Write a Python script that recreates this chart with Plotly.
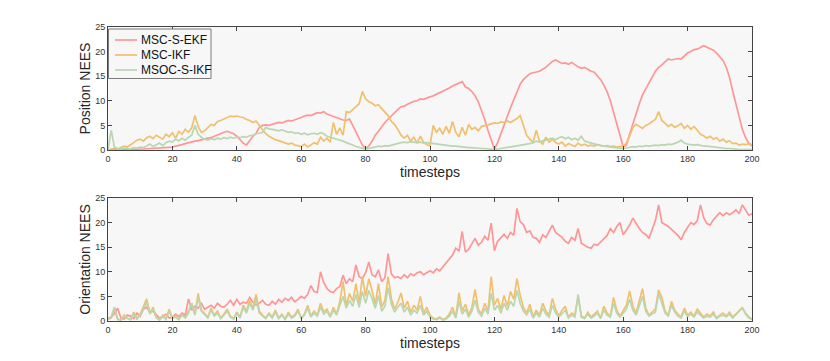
import plotly.graph_objects as go

timesteps = list(range(0, 201))

pos_msc_s_ekf = [
    0.0,0.05,0.1,0.1,0.1,0.15,0.1,0.15,0.2,0.15,
    0.2,0.2,0.25,0.2,0.3,0.3,0.35,0.4,0.45,0.5,
    0.6,0.8,0.9,1.1,1.3,1.5,1.6,1.8,1.9,2.1,
    2.2,2.4,2.5,2.8,3.1,3.4,3.6,3.8,3.6,3.3,
    2.8,2.0,1.4,1.0,2.0,2.8,3.4,4.6,5.0,5.1,
    5.0,5.2,5.4,5.6,5.5,5.8,6.0,5.9,6.1,6.3,
    6.6,6.9,7.1,7.0,7.3,7.6,7.5,7.8,7.3,7.0,
    6.8,6.6,6.3,6.1,6.0,6.3,5.0,3.6,2.2,1.0,
    0.3,0.8,1.8,3.0,3.8,4.8,5.6,6.3,7.0,7.6,
    8.2,8.8,8.9,9.3,9.6,9.9,10.0,10.4,10.3,10.6,
    10.8,11.0,11.3,11.6,11.9,12.2,12.6,13.0,13.3,13.6,
    13.9,12.8,12.5,11.9,11.0,9.8,8.2,6.2,4.0,2.0,
    0.2,1.5,3.4,5.0,6.8,8.6,10.3,12.0,13.4,14.3,
    15.0,15.5,15.7,15.9,16.0,16.4,16.8,17.4,18.0,18.3,
    17.9,17.6,17.7,17.4,17.8,17.3,16.9,16.6,16.8,16.4,
    16.0,15.8,15.0,14.3,13.2,11.8,10.0,7.8,5.5,3.0,
    0.6,1.0,3.2,5.4,7.4,9.4,11.2,12.5,13.6,14.8,
    16.0,16.8,17.3,18.0,18.5,18.3,18.4,18.6,18.5,19.2,
    19.7,20.0,20.4,20.5,20.9,21.2,20.9,20.6,20.3,19.7,
    19.0,18.2,16.8,14.8,12.0,9.2,6.5,4.2,2.5,1.4,
    0.8]

pos_msc_ikf = [
    0.1,0.2,0.3,0.2,0.5,0.8,0.6,1.0,1.5,2.0,
    2.2,1.8,2.5,2.8,2.3,3.0,2.6,2.2,3.2,2.7,
    3.5,2.4,3.8,3.2,4.2,3.6,4.5,7.0,4.8,3.6,
    3.9,4.6,5.2,5.0,5.8,6.0,6.3,6.6,6.9,6.8,
    6.9,6.7,6.6,6.2,6.0,5.6,5.9,5.0,4.2,3.3,
    2.8,2.4,2.1,1.9,1.7,1.5,1.2,1.4,1.0,0.9,
    0.7,1.2,0.6,1.0,1.5,1.2,2.6,1.8,2.4,1.6,
    5.6,3.2,4.5,3.0,7.8,7.6,8.2,8.8,9.4,11.9,
    10.4,9.8,9.5,9.0,9.2,8.4,7.6,7.0,5.8,5.2,
    4.2,3.0,2.4,3.0,1.8,2.6,1.4,2.8,1.6,1.1,
    0.8,5.0,3.6,4.4,3.2,4.8,3.4,5.8,3.6,2.7,
    4.6,3.0,5.2,4.2,4.6,3.9,4.8,4.9,5.1,5.3,
    5.5,5.4,5.7,5.6,5.9,5.6,6.0,6.4,7.0,5.0,
    3.0,2.2,1.6,4.0,1.8,1.2,2.6,1.6,2.2,1.5,
    1.2,1.6,0.8,1.3,1.0,0.7,1.4,0.9,1.2,0.8,
    1.0,0.8,1.1,0.9,0.8,0.9,0.7,0.8,0.6,0.7,
    0.8,1.4,2.8,4.6,5.2,4.8,4.4,5.0,5.3,5.8,
    6.2,7.8,6.0,5.4,4.8,5.2,4.6,4.9,5.4,4.4,
    5.0,4.2,4.8,4.0,3.2,2.9,2.4,2.8,2.2,2.5,
    1.8,2.2,1.6,1.9,1.3,1.4,1.0,1.2,1.1,1.3,
    1.1]

pos_msoc_s_ikf = [
    0.2,4.0,0.6,0.3,0.2,0.4,0.3,0.2,0.5,0.4,
    0.6,0.5,0.8,1.2,0.7,1.0,1.4,0.9,1.5,1.8,
    1.6,2.2,1.9,2.4,2.0,2.6,3.0,5.0,3.2,2.6,
    2.2,2.0,2.3,2.1,2.4,2.2,2.5,2.3,2.6,2.4,
    2.6,2.5,2.7,2.6,2.9,3.0,3.3,3.4,3.6,4.6,
    4.3,4.2,4.0,3.9,4.1,3.8,3.6,3.7,3.4,3.5,
    3.2,3.4,3.1,3.3,3.4,3.2,3.5,3.3,2.8,2.6,
    2.4,2.2,2.1,1.8,1.5,1.3,1.0,0.7,0.5,0.3,
    0.2,0.3,0.5,0.7,0.8,0.7,0.9,0.8,1.0,1.2,
    1.4,1.5,1.6,1.5,1.7,1.6,1.5,1.6,1.4,1.5,
    1.4,1.3,1.2,1.1,1.0,1.0,0.9,0.8,0.8,0.7,
    0.6,0.6,0.5,0.5,0.4,0.4,0.3,0.3,0.2,0.2,
    0.1,0.2,0.3,0.4,0.5,0.6,0.7,0.8,0.9,1.0,
    1.1,1.3,1.5,1.8,1.6,1.9,2.0,2.2,2.4,2.1,
    2.5,2.7,2.3,2.6,2.1,2.4,2.0,2.8,1.8,1.6,
    1.4,1.2,1.0,0.9,0.8,0.7,0.6,0.5,0.4,0.35,
    0.3,0.4,0.5,0.7,0.6,0.8,0.7,0.9,0.8,0.9,
    1.0,0.9,1.1,1.0,1.2,1.1,1.3,1.6,2.0,1.4,
    1.2,1.1,1.0,1.1,0.9,0.8,0.8,0.7,0.6,0.5,
    0.4,0.4,0.3,0.3,0.2,0.2,0.1,0.1,0.1,0.1,
    0.1]

ori_msc_s_ekf = [
    0.5,0.8,1.5,2.6,0.6,0.4,1.2,1.0,0.5,1.6,
    1.0,2.4,2.8,1.8,2.0,1.2,0.6,0.8,1.4,0.6,
    0.8,1.4,0.9,1.6,1.2,4.5,2.2,3.0,2.6,3.6,
    2.4,2.8,3.2,2.6,3.6,3.0,2.8,3.4,4.2,3.2,
    4.4,3.4,3.8,3.6,4.8,3.8,3.2,3.6,4.2,3.4,
    3.2,4.0,3.4,4.4,3.8,4.6,4.2,4.8,3.9,4.4,
    5.0,4.6,5.4,7.2,6.0,5.8,10.0,7.8,6.6,6.0,
    5.8,6.6,7.0,9.3,7.6,8.6,8.0,11.4,9.0,8.6,
    9.8,12.0,9.4,9.0,10.4,8.0,8.8,13.7,9.6,8.8,
    9.0,8.6,9.4,8.8,9.6,9.2,9.8,10.0,9.4,9.8,
    10.2,9.8,10.6,10.2,11.0,12.0,12.6,13.4,14.8,14.2,
    18.2,14.0,14.6,15.6,16.8,15.4,16.0,17.2,16.4,19.9,
    14.3,16.2,16.8,17.6,16.8,18.0,17.4,22.9,20.2,19.6,
    18.0,18.3,17.0,16.8,16.0,17.5,17.0,18.4,19.5,18.0,
    17.5,17.0,16.2,15.8,17.0,16.4,18.8,15.8,15.4,15.0,
    14.8,15.6,15.4,16.0,16.8,17.4,18.8,18.0,19.2,20.0,
    17.5,18.4,19.5,20.9,19.8,18.8,18.0,17.6,16.8,18.4,
    20.4,23.6,20.0,19.6,19.2,18.6,18.0,17.4,16.5,18.0,
    19.0,20.0,19.6,20.4,23.6,21.0,19.8,19.5,20.6,21.4,
    22.0,21.4,22.0,21.6,22.0,22.6,21.8,23.6,22.4,21.5,
    21.8]

ori_msc_ikf = [
    0.3,0.8,2.8,0.4,0.2,1.2,0.6,0.3,1.8,0.5,
    1.4,3.0,4.5,1.6,2.8,0.8,0.3,1.2,0.4,2.4,
    0.6,1.0,0.3,1.4,0.8,2.0,3.6,1.4,5.6,2.2,
    1.6,0.8,2.6,1.2,2.0,0.6,1.4,2.4,1.0,0.5,
    1.8,0.8,3.2,2.0,4.2,2.6,5.4,2.0,1.2,0.6,
    1.6,0.8,2.2,0.6,1.4,0.4,1.8,0.8,1.2,2.4,
    0.6,1.4,3.2,1.0,2.0,1.2,3.6,1.8,2.4,1.0,
    2.8,1.4,4.0,8.0,3.2,5.6,4.0,7.6,3.6,9.0,
    5.0,8.6,6.2,3.4,7.6,2.8,4.2,9.0,4.6,2.4,
    3.8,5.7,2.6,4.0,1.8,3.2,2.2,5.0,1.6,2.8,
    1.2,0.6,0.4,0.8,0.3,0.6,1.4,2.8,0.8,5.7,
    2.0,3.4,1.2,2.8,6.4,2.4,1.4,3.6,2.0,9.0,
    3.2,4.6,2.4,5.2,3.0,6.0,4.4,8.6,5.2,2.8,
    1.6,3.4,0.8,2.2,1.2,3.6,2.0,1.2,4.6,2.4,
    1.0,2.2,3.0,0.8,1.6,1.2,5.0,1.0,0.6,1.8,
    0.8,1.4,2.0,0.6,3.0,1.6,1.0,4.8,2.2,1.0,
    2.2,3.2,6.1,3.0,1.6,4.0,6.6,2.6,1.2,1.8,
    2.4,6.3,4.8,2.0,1.2,4.0,2.2,1.4,0.8,2.6,
    1.2,1.8,1.0,2.4,1.6,0.8,1.4,1.0,1.8,0.6,
    1.2,1.6,1.0,1.8,0.8,1.4,2.0,2.7,1.6,0.8,
    0.4]

ori_msoc_s_ikf = [
    0.3,0.6,2.6,0.3,0.2,1.0,0.5,0.3,1.5,0.4,
    1.2,2.6,3.8,1.4,2.4,0.6,0.2,1.0,0.3,2.0,
    0.5,0.8,0.3,1.2,0.6,1.6,3.6,1.2,4.8,2.0,
    1.4,0.6,2.2,1.0,1.6,0.5,1.2,2.0,0.8,0.4,
    1.5,0.6,2.8,1.6,3.6,2.2,4.4,1.6,1.0,0.5,
    1.4,0.6,1.8,0.5,1.2,0.3,1.4,0.6,1.0,2.0,
    0.5,1.2,2.6,0.8,1.6,1.0,2.8,1.4,2.0,0.8,
    2.2,1.2,3.2,5.0,2.6,4.2,3.0,5.4,2.8,6.0,
    3.6,6.2,4.6,2.6,5.2,2.0,3.0,6.8,3.4,1.8,
    2.8,3.6,1.8,2.8,1.2,2.2,1.6,3.2,1.2,2.0,
    0.8,0.4,0.3,0.6,0.2,0.4,1.0,2.0,0.6,4.0,
    1.4,2.4,0.8,2.0,4.2,1.8,1.0,2.6,1.4,5.6,
    2.2,3.2,1.6,3.6,2.2,4.0,3.0,6.2,3.6,2.0,
    1.2,2.4,0.6,1.6,0.8,2.6,1.4,0.8,3.2,1.6,
    0.8,1.6,2.2,0.6,1.2,0.8,5.4,0.8,0.5,1.4,
    0.6,1.0,1.6,0.5,2.2,1.2,0.8,3.6,1.6,0.8,
    1.6,2.4,4.4,2.2,1.2,3.0,5.0,2.0,1.0,1.4,
    1.8,5.6,3.4,1.6,1.0,3.2,1.8,1.0,0.6,2.0,
    0.9,1.4,0.8,1.8,1.2,0.6,1.0,0.8,1.4,0.5,
    1.0,1.2,0.8,1.4,0.6,1.2,1.8,2.6,1.4,0.6,
    0.3]

names = ["MSC-S-EKF", "MSC-IKF", "MSOC-S-IKF"]
colors = ["rgb(255,150,150)", "rgb(240,192,110)", "rgb(186,214,176)"]
top_series = [pos_msc_s_ekf, pos_msc_ikf, pos_msoc_s_ikf]
bot_series = [ori_msc_s_ekf, ori_msc_ikf, ori_msoc_s_ikf]

# page body has an 8px margin: figure occupies window minus that offset
OFF = 8
W, H = 830 - OFF, 361 - OFF


def px(x):
    return (x - OFF) / W


def py(y):
    return 1 - (y - OFF) / H


fig = go.Figure()
for name, col, ys in zip(names, colors, top_series):
    fig.add_trace(go.Scatter(x=timesteps, y=ys, mode="lines", name=name,
                             line=dict(color=col, width=1.7),
                             xaxis="x", yaxis="y", showlegend=False))
for name, col, ys in zip(names, colors, bot_series):
    fig.add_trace(go.Scatter(x=timesteps, y=ys, mode="lines", name=name,
                             line=dict(color=col, width=1.7),
                             xaxis="x2", yaxis="y2", showlegend=False))

font_fam = "Liberation Sans, Arial, sans-serif"
tickfont = dict(family=font_fam, size=9, color="#333333")
titlefont = dict(family=font_fam, size=14, color="#262626")
common_x = dict(range=[0, 200], tickvals=[0, 20, 40, 60, 80, 100, 120, 140, 160, 180, 200],
                ticks="inside", ticklen=4, tickcolor="#444444", showline=True,
                linecolor="#444444", linewidth=0.8, mirror="ticks", showgrid=False,
                zeroline=False, tickfont=tickfont, automargin=False)
common_y = dict(range=[0, 25], tickvals=[0, 5, 10, 15, 20, 25],
                ticks="inside", ticklen=4, tickcolor="#444444", showline=True,
                linecolor="#444444", linewidth=0.8, mirror="ticks", showgrid=False,
                zeroline=False, tickfont=tickfont, automargin=False)

shapes = [dict(type="rect", xref="paper", yref="paper",
               x0=px(108.5), x1=px(211), y0=py(78.5), y1=py(29),
               fillcolor="#f7f7f7", line=dict(color="#7a7a7a", width=1), layer="above")]
annotations = []
row_y = [40, 55, 70]
for name, col, ry in zip(names, colors, row_y):
    shapes.append(dict(type="line", xref="paper", yref="paper",
                       x0=px(115), x1=px(137), y0=py(ry), y1=py(ry),
                       line=dict(color=col, width=1.7), layer="above"))
    annotations.append(dict(xref="paper", yref="paper", x=px(139), y=py(ry),
                            xanchor="left", yanchor="middle", text=name, showarrow=False,
                            font=dict(family=font_fam, size=12, color="#111111")))

fig.update_layout(
    width=W, height=H,
    margin=dict(l=0, r=0, t=0, b=0),
    paper_bgcolor="white",
    plot_bgcolor="#f7f7f7",
    xaxis=dict(domain=[px(108), px(752)], anchor="y",
               title=dict(text="timesteps", font=titlefont, standoff=4), **common_x),
    yaxis=dict(domain=[py(150), py(27)], anchor="x",
               title=dict(text="Position NEES", font=titlefont, standoff=1), **common_y),
    xaxis2=dict(domain=[px(108), px(752)], anchor="y2",
                title=dict(text="timesteps", font=titlefont, standoff=4), **common_x),
    yaxis2=dict(domain=[py(321), py(198)], anchor="x2",
                title=dict(text="Orientation NEES", font=titlefont, standoff=1), **common_y),
    shapes=shapes,
    annotations=annotations,
    showlegend=False,
)

fig.write_html("out.html")
